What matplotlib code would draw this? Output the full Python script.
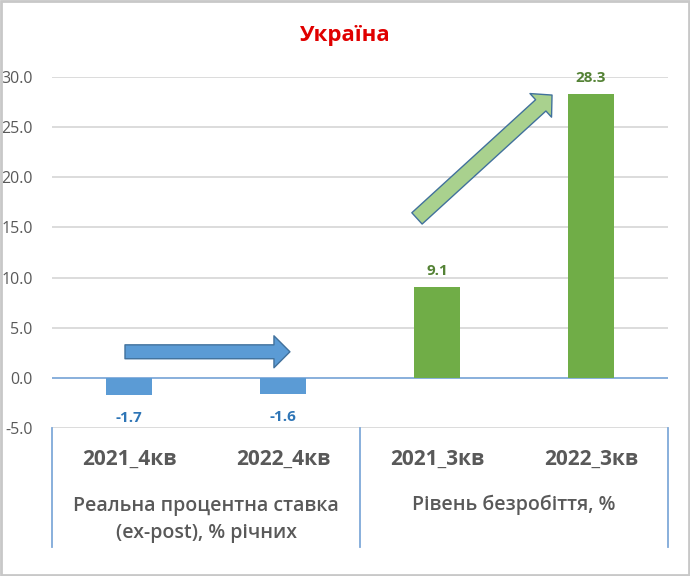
import matplotlib.pyplot as plt
import matplotlib.transforms as mtransforms
from matplotlib.patches import FancyArrowPatch, Rectangle

plt.rcParams['font.family'] = ['Open Sans', 'DejaVu Sans']

categories = ['2021_4кв', '2022_4кв', '2021_3кв', '2022_3кв']
values = [-1.7, -1.6, 9.1, 28.3]
groups = ['Реальна процентна ставка\n(ex-post), % річних', 'Рівень безробіття, %']
yticks = [-5, 0, 5, 10, 15, 20, 25, 30]

blue = '#5b9bd5'
green = '#70ad47'
bar_colors = [blue, blue, green, green]
label_colors = ['#2e75b6', '#2e75b6', '#548235', '#548235']
grey = '#595959'

fig = plt.figure(figsize=(6.9, 5.76), dpi=100)
ax = fig.add_axes([52 / 690, 1 - 428 / 576, 616 / 690, 351 / 576])

x = list(range(len(categories)))
ax.bar(x, values, width=0.3, color=bar_colors, zorder=3)

ax.set_xlim(-0.5, 3.5)
ax.set_ylim(-5, 30)
ax.set_yticks(yticks)
ax.set_yticklabels(['%.1f' % t for t in yticks], color=grey, fontsize=11.5)
ax.tick_params(length=0, pad=14)
ax.set_xticks([])
for s in ax.spines.values():
    s.set_visible(False)
for t in yticks:
    if t == 0:
        ax.axhline(t, color='#7fa9d9', lw=1.3, zorder=2)
    else:
        ax.axhline(t, color='#d9d9d9', lw=1.3, zorder=1)

# data labels
for xi, v, c in zip(x, values, label_colors):
    if v >= 0:
        ax.text(xi, v + 0.9, '%.1f' % v, ha='center', va='bottom',
                color=c, fontsize=11, fontweight='bold')
    else:
        ax.text(xi, v - 1.6, '%.1f' % v, ha='center', va='top',
                color=c, fontsize=11, fontweight='bold')

# multi-level category axis
trans = mtransforms.blended_transform_factory(ax.transData, ax.transAxes)
for xv in [-0.5, 1.5, 3.5]:
    ax.plot([xv, xv], [0, -0.339], color='#7fa9d9', lw=1.3,
            transform=trans, clip_on=False)
for xi, c in zip(x, categories):
    ax.text(xi, -0.088, c, transform=trans, ha='center', va='center',
            color=grey, fontsize=15, fontweight='bold')
ax.text(0.5, -0.26, groups[0], transform=trans, ha='center', va='center',
        color=grey, fontsize=14, fontweight='semibold', linespacing=1.45)
ax.text(2.5, -0.219, groups[1], transform=trans, ha='center', va='center',
        color=grey, fontsize=14, fontweight='semibold')

# arrows
arr1 = FancyArrowPatch((-0.026, 2.6), (1.045, 2.6),
                       arrowstyle='simple,head_length=11.5,head_width=23,tail_width=10',
                       mutation_scale=1, shrinkA=0, shrinkB=0,
                       facecolor=blue, edgecolor='#41719c', lw=1, zorder=4)
ax.add_patch(arr1)
arr2 = FancyArrowPatch((1.87, 15.9), (2.747, 28.2),
                       arrowstyle='simple,head_length=11,head_width=23,tail_width=11',
                       mutation_scale=1, shrinkA=0, shrinkB=0,
                       facecolor='#a9d18e', edgecolor='#41719c', lw=1, zorder=4)
ax.add_patch(arr2)

fig.text(0.5, 1 - 35 / 576, 'Україна', ha='center', va='center',
         color='#e00000', fontsize=16, fontweight='bold')

fig.patches.append(Rectangle((0.002, 0.002), 0.996, 0.996, transform=fig.transFigure,
                             fill=False, edgecolor='#c8c8c8', lw=2))

fig.savefig('out.png', dpi=100)
